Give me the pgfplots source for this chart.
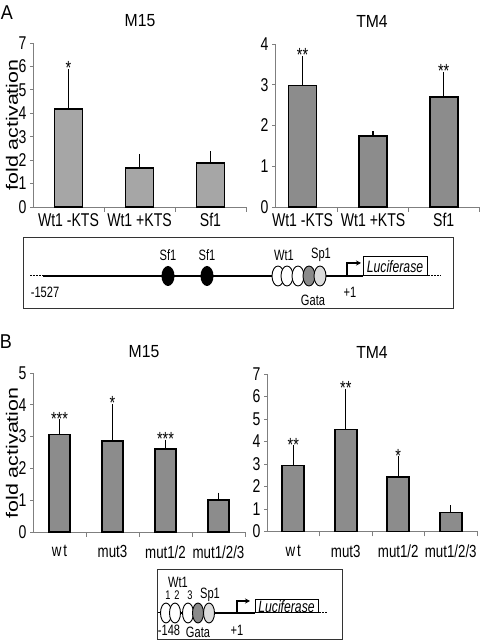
\documentclass[border=0pt]{standalone}
\usepackage{fontspec}
\setmainfont{Liberation Sans}
\usepackage{pgfplots}
\pgfplotsset{compat=1.18}
\usetikzlibrary{arrows.meta}
\newfontfamily\tickf[FakeStretch=0.76]{Liberation Sans}
\newfontfamily\titf[FakeStretch=0.9]{Liberation Sans}
\newfontfamily\ylabf[FakeStretch=1.3]{Liberation Sans}
\newfontfamily\diagf[FakeStretch=0.74]{Liberation Sans}
\newcommand\fTick{\tickf\fontsize{18.5}{18.5}\selectfont}
\newcommand\fTickB{\tickf\fontsize{17.5}{17.5}\selectfont}
\newcommand\fYTick{\tickf\fontsize{18.5}{18.5}\selectfont}
\newcommand\fTitle{\titf\fontsize{17.5}{17.5}\selectfont}
\newcommand\fYlab{\ylabf\fontsize{16.5}{16.5}\selectfont}
\newcommand\fDiag{\diagf\fontsize{15}{15}\selectfont}
\newcommand\fSmall{\diagf\fontsize{12.5}{12.5}\selectfont}
\newcommand\fLuc{\diagf\itshape\fontsize{16.5}{16.5}\selectfont}
\newcommand\fStar{\tickf\fontsize{19}{19}\selectfont}
\newcommand\fLetter{\titf\fontsize{20}{20}\selectfont}
\definecolor{barA}{HTML}{A6A6A6}
\definecolor{barB}{HTML}{8C8C8C}
\definecolor{axc}{HTML}{7F7F7F}
\definecolor{gataC}{HTML}{8A8A8A}
\definecolor{sp1C}{HTML}{DCDCDC}
\pgfplotsset{
  panel/.style={
    scale only axis, anchor=south west,
    axis x line*=bottom, axis y line*=left,
    axis line style={-, draw=axc, line width=0.9pt},
    ymin=0, tick align=outside,
    major tick length=3pt, minor tick length=5pt,
    every tick/.style={draw=axc, line width=0.9pt},
    major x tick style={draw=none},
    /pgf/number format/assume math mode=true,
    yticklabel style={font=\fYTick, text=black},
    xticklabel style={font=\fTick, text=black},
    clip=false,
  },
  bars/.style={ybar, bar width=#1, draw=black, line width=1.7pt,
    error bars/y dir=plus, error bars/y explicit,
    error bars/error bar style={line width=1.3pt, black},
    error bars/error mark options={line width=1.3pt, mark size=3pt, black}},
  stars/.style={only marks, mark=*, mark size=0pt, mark options={draw=none, fill=none},
    nodes near coords, point meta=explicit symbolic,
    nodes near coords style={anchor=south, inner sep=0pt, yshift=-3pt, font=\fStar, text=black}},
}
\begin{document}
\begin{tikzpicture}[x=1pt, y=1pt]
\useasboundingbox (0,0) rectangle (480,642);
% ---------------- Panel A ----------------
\node[font=\fLetter] at (7,629) {A};
\node[font=\fTitle] at (140,621) {M15};
\node[font=\fTitle] at (372,621) {TM4};
\node[font=\fYlab, rotate=90] at (12,517) {fold activation};
\begin{axis}[panel, at={(33pt,435pt)}, width=213pt, height=164pt,
  xmin=0.5, xmax=3.5, ymax=7, ytick={0,1,...,7},
  xtick={1,2,3}, xticklabels={Wt1 -KTS, Wt1 +KTS, Sf1}, minor xtick={1.5,2.5,3.5}]
\addplot[fill=barA, bars=28pt] table[x=x, y=y, y error=e] {
x y e
1 4.19 1.57
2 1.67 0.47
3 1.89 0.37
};
\addplot[stars] table[x=x, y=t, meta=s] {
x t s
1 5.76 *
};
\end{axis}
\begin{axis}[panel, at={(275pt,435pt)}, width=204pt, height=163pt,
  xmin=0.61, xmax=3.5, ymax=4, ytick={0,1,...,4},
  xtick={1,2,3}, xticklabels={Wt1 -KTS, Wt1 +KTS, Sf1}, minor xtick={1.5,2.5,3.5}]
\addplot[fill=barB, bars=28pt] table[x=x, y=y, y error=e] {
x y e
1 2.98 0.65
2 1.74 0.04
3 2.70 0.54
};
\addplot[stars] table[x=x, y=t, meta=s] {
x t s
1 3.63 **
3 3.24 **
};
\end{axis}
% diagram A
\draw[line width=0.9pt, draw=black!80] (23,405) rectangle (453,334);
\draw[line width=1pt, dash pattern=on 1.5pt off 1.5pt] (30,366)--(43,366);
\draw[line width=2.2pt] (43,366)--(363,366);
\fill (168,366) ellipse [x radius=6.5, y radius=10];
\fill (207,366) ellipse [x radius=6.5, y radius=10];
\node[font=\fDiag] at (168,387) {Sf1};
\node[font=\fDiag] at (207,387) {Sf1};
\foreach \xx/\cc in {278/white, 287/white, 298/white, 309/gataC, 320/sp1C}
  \draw[line width=0.9pt, fill=\cc] (\xx,366) ellipse [x radius=6, y radius=10];
\node[font=\fDiag] at (284,387) {Wt1};
\node[font=\fDiag] at (321,387) {Sp1};
\node[font=\fDiag] at (313,342) {Gata};
\node[font=\fDiag] at (350,350) {+1};
\node[font=\fDiag] at (45,350) {-1527};
\draw[line width=1.2pt, -{Stealth[length=5pt, width=5pt]}] (347,366)--(347,379)--(361,379);
\draw[line width=1pt, fill=white] (363,366) rectangle (427,385);
\node[font=\fLuc] at (395,375.5) {Luciferase};
\draw[line width=1pt, dash pattern=on 1.5pt off 1.5pt] (428,366)--(441,366);
% ---------------- Panel B ----------------
\node[font=\fLetter] at (6,300) {B};
\node[font=\fTitle] at (144,290) {M15};
\node[font=\fTitle] at (372,290) {TM4};
\node[font=\fYlab, rotate=90] at (12,189) {fold activation};
\begin{axis}[panel, at={(33pt,110pt)}, width=212pt, height=159pt,
  xmin=0.5, xmax=4.5, ymax=5, ytick={0,1,...,5},
  xtick={1,2,3,4}, xticklabels={w\hspace{2pt}t, mut3, mut1/2, mut1/2/3}, minor xtick={1.5,2.5,3.5,4.5},
  xticklabel style={yshift=-7pt, font=\fTickB}]
\addplot[fill=barB, bars=21pt] table[x=x, y=y, y error=e] {
x y e
1 3.07 0.38
2 2.87 1.06
3 2.60 0.21
4 1.00 0.14
};
\addplot[stars] table[x=x, y=t, meta=s] {
x t s
1 3.45 ***
2 3.93 *
3 2.81 ***
};
\end{axis}
\begin{axis}[panel, at={(267pt,110.5pt)}, width=210pt, height=157.5pt,
  xmin=0.5, xmax=4.5, ymax=7, ytick={0,1,...,7},
  xtick={1,2,3,4}, xticklabels={w\hspace{2pt}t, mut3, mut1/2, mut1/2/3}, minor xtick={1.5,2.5,3.5,4.5},
  xticklabel style={yshift=-7pt, font=\fTickB}]
\addplot[fill=barB, bars=22pt] table[x=x, y=y, y error=e] {
x y e
1 2.93 0.77
2 4.54 1.67
3 2.41 0.80
4 0.84 0.19
};
\addplot[stars] table[x=x, y=t, meta=s] {
x t s
1 3.70 **
2 6.21 **
3 3.21 *
};
\end{axis}
% diagram B
\draw[line width=0.9pt, draw=black!80] (157,73) rectangle (342,3);
\draw[line width=1pt, dash pattern=on 1.5pt off 1.5pt] (158,29)--(162,29);
\draw[line width=2.2pt] (162,29)--(255,29);
\foreach \xx/\cc in {166/white, 175/white, 188/white, 198/gataC, 209/sp1C}
  \draw[line width=0.9pt, fill=\cc] (\xx,29) ellipse [x radius=5.5, y radius=10];
\node[font=\fDiag] at (178,60) {Wt1};
\node[font=\fSmall] at (168,46.5) {1};
\node[font=\fSmall] at (177,46.5) {2};
\node[font=\fSmall] at (190,46.5) {3};
\node[font=\fDiag] at (210,47) {Sp1};
\node[font=\fDiag] at (169,12) {-148};
\node[font=\fDiag] at (198,10) {Gata};
\node[font=\fDiag] at (237,12) {+1};
\draw[line width=1.2pt, -{Stealth[length=5pt, width=5pt]}] (237,29)--(237,41)--(250,41);
\draw[line width=1pt, fill=white] (255,29) rectangle (318,42);
\node[font=\fLuc] at (286.5,35.5) {Luciferase};
\draw[line width=1pt, dash pattern=on 1.5pt off 1.5pt] (319,29)--(328,29);
\end{tikzpicture}
\end{document}
